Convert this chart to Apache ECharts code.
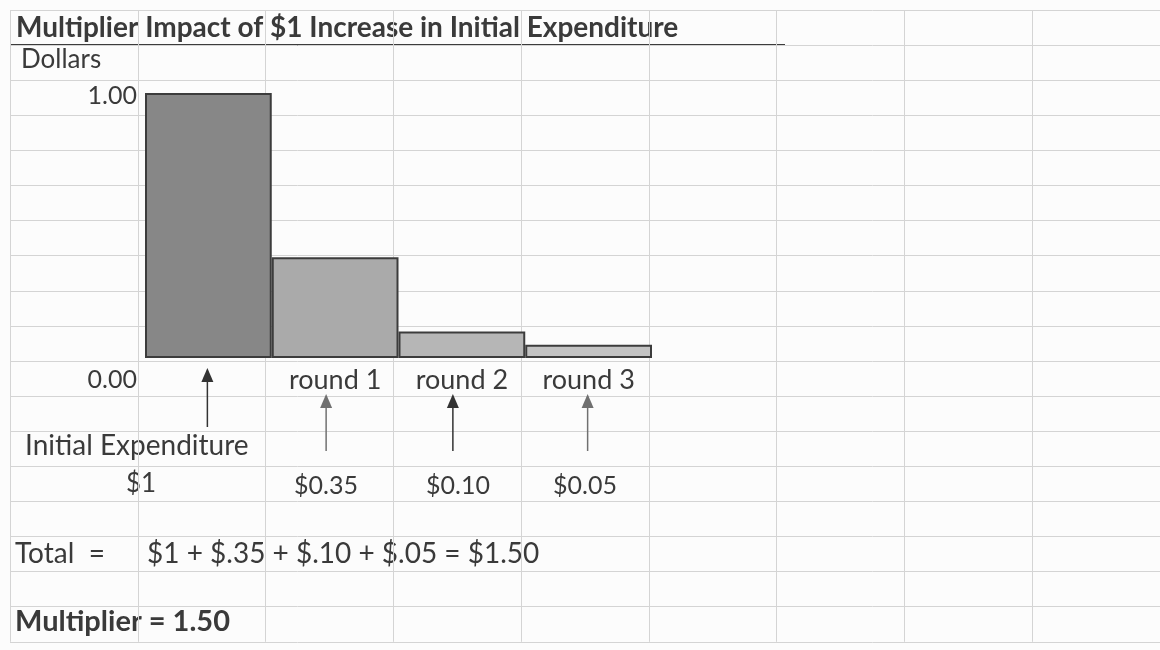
<!DOCTYPE html>
<html>
<head>
<meta charset="utf-8">
<script src="https://cdn.jsdelivr.net/npm/echarts@6/dist/echarts.min.js"></script>
<style>html,body{margin:0;background:#fff}#main{width:1160px;height:650px}</style>
</head>
<body>
<div id="main"></div>
<script>
var categories = ['', 'round 1', 'round 2', 'round 3'];
var values = [1.00, 0.38, 0.10, 0.05];
var barColors = ['#878787', '#aaaaaa', '#b6b6b6', '#c3c3c3'];
var amountLabels = ['$1', '$0.35', '$0.10', '$0.05'];
var yTicks = [0, 1];
var sheetCols = 9, sheetRows = 18;

var font = 'Lato, "Open Sans", sans-serif';
var textColor = '#3a3a3a';

var myChart = echarts.init(document.getElementById('main'));

function txt(x, y, s, size, bold, align) {
    return {
        type: 'text', x: x, y: y,
        style: {
            text: s, fill: textColor, fontFamily: font, fontSize: size,
            fontWeight: bold ? 'bold' : 'normal',
            align: align || 'left', verticalAlign: 'middle'
        }
    };
}

option = {
    backgroundColor: '#fcfcfc',
    animation: false,
    grid: [
        {left: 145, right: 508, top: 93, bottom: 292},
        {left: 10, top: 10, width: sheetCols * 129, height: sheetRows * 35.1}
    ],
    xAxis: [{
        type: 'category', gridIndex: 0, data: categories,
        axisLine: {show: false}, axisTick: {show: false},
        axisLabel: {margin: 9, verticalAlign: 'top', fontFamily: font, fontSize: 27, color: textColor}
    }, {
        type: 'value', gridIndex: 1, min: 0, max: sheetCols, interval: 1,
        axisLine: {show: false}, axisTick: {show: false}, axisLabel: {show: false},
        splitLine: {lineStyle: {color: '#d4d4d4', width: 1}}
    }],
    yAxis: [{
        type: 'value', gridIndex: 0, min: yTicks[0], max: yTicks[1], interval: 1,
        axisLine: {show: false}, axisTick: {show: false}, splitLine: {show: false},
        axisLabel: {
            margin: 8, verticalAlign: 'middle', fontFamily: font, fontSize: 25, color: textColor,
            formatter: function (v) { return v === 0 ? '{lo|' + v.toFixed(2) + '}' : '{hi|' + v.toFixed(2) + '}'; },
            rich: {
                lo: {padding: [44, 0, 0, 0], fontFamily: font, fontSize: 25, color: textColor},
                hi: {padding: [6, 0, 0, 0], fontFamily: font, fontSize: 25, color: textColor}
            }
        }
    }, {
        type: 'value', gridIndex: 1, min: 0, max: sheetRows, interval: 1, inverse: true,
        axisLine: {show: false}, axisTick: {show: false}, axisLabel: {show: false},
        splitLine: {lineStyle: {color: '#d4d4d4', width: 1}}
    }],
    series: [{
        type: 'bar', xAxisIndex: 0, yAxisIndex: 0, barCategoryGap: '0%',
        data: values.map(function (v, i) {
            return {value: v, itemStyle: {color: barColors[i]}};
        }),
        itemStyle: {borderColor: '#3c3c3c', borderWidth: 2}
    }, {
        // arrows pointing up at each bar
        type: 'custom', xAxisIndex: 0, yAxisIndex: 0, clip: false,
        data: categories.map(function (c, i) { return [i, 0]; }),
        encode: {x: 0, y: 1},
        renderItem: function (params, api) {
            var p = api.coord([api.value(0), 0]);
            var i = params.dataIndex;
            var first = i === 0;
            var x = p[0] + (first ? -1 : (i === 3 ? -1 : -9));
            var tip = p[1] + (first ? 10 : 36);
            var tail = p[1] + (first ? 69 : 93);
            var col = (i === 0 || i === 2) ? '#333333' : '#707070';
            return {
                type: 'group',
                children: [{
                    type: 'line',
                    shape: {x1: x, y1: tail, x2: x, y2: tip + 12},
                    style: {stroke: col, lineWidth: 1.5}
                }, {
                    type: 'polygon',
                    shape: {points: [[x, tip], [x - 6, tip + 14], [x + 6, tip + 14]]},
                    style: {fill: col}
                }]
            };
        }
    }],
    graphic: [
        {type: 'line', shape: {x1: 10, y1: 45, x2: 785, y2: 45}, style: {stroke: '#3c3c3c', lineWidth: 2}},
        txt(16, 28, 'Multiplier Impact of $1 Increase in Initial Expenditure', 28, true),
        txt(21, 60, 'Dollars', 26),
        txt(25, 446, 'Initial Expenditure', 28),
        txt(141, 484, amountLabels[0], 26, false, 'center'),
        txt(326, 486, amountLabels[1], 25, false, 'center'),
        txt(458, 486, amountLabels[2], 25, false, 'center'),
        txt(585, 486, amountLabels[3], 25, false, 'center'),
        txt(15, 554, 'Total  =', 28),
        txt(147, 554, '$1 + $.35 + $.10 + $.05 = $1.50', 28),
        txt(15, 622, 'Multiplier = 1.50', 29, true)
    ]
};
myChart.setOption(option);
</script>
</body>
</html>
